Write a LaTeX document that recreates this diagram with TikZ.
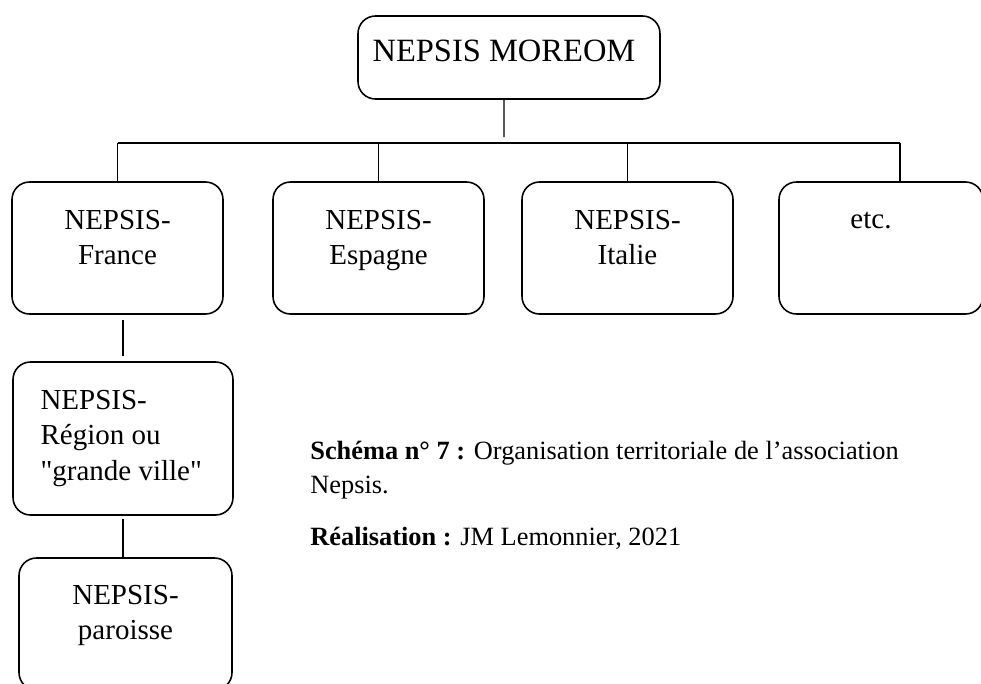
\documentclass[tikz,border=0pt]{standalone}
\usepackage{fontspec}
\setmainfont{Liberation Serif}[Ligatures=TeXOff]
\usepackage{tikz}
\usetikzlibrary{calc}

\begin{document}
\begin{tikzpicture}[
  orgbox/.style={draw, rounded corners=0.35cm, line width=0.9pt, minimum width=4.22cm, minimum height=2.64cm, inner sep=0pt},
  boxtext/.style={inner sep=0pt, align=center, font=\fontsize{16.5}{20}\selectfont},
  link/.style={line width=0.8pt}
]
  \useasboundingbox (0,0) rectangle (19.62,-13.68);

  % head of the association
  \node[orgbox, minimum width=6.04cm, minimum height=1.66cm] (moreom) at (10.18,-1.15) {};
  \node[boxtext, anchor=north west, font=\fontsize{18.5}{22}\selectfont] (moreomtxt) at ($(moreom.north west)+(0.30,-0.48)$) {NEPSIS MOREOM};

  % national branches
  \node[orgbox] (france) at (2.35,-4.96) {};
  \node[orgbox] (espagne) at (7.57,-4.96) {};
  \node[orgbox] (italie) at (12.55,-4.96) {};
  \node[orgbox, minimum width=4.08cm] (etc) at (17.62,-4.96) {};

  \node[boxtext, anchor=north] (francetxt) at ($(france.north)+(0,-0.58)$) {NEPSIS-\\France};
  \node[boxtext, anchor=north] (espagnetxt) at ($(espagne.north)+(0,-0.58)$) {NEPSIS-\\Espagne};
  \node[boxtext, anchor=north] (italietxt) at ($(italie.north)+(0,-0.58)$) {NEPSIS-\\Italie};
  \node[boxtext, anchor=base] (etctxt) at ($(etc.north)+(-0.2,-0.94)$) {etc.};

  % local levels under France
  \node[orgbox, minimum width=4.4cm, minimum height=3.06cm] (region) at (2.46,-8.77) {};
  \node[boxtext, anchor=north west, align=left] (regiontxt) at ($(region.north west)+(0.56,-0.58)$) {NEPSIS-\\Région ou\\"grande ville"};
  \node[orgbox, minimum width=4.26cm] (paroisse) at (2.51,-12.48) {};
  \node[boxtext, anchor=north] (paroissetxt) at ($(paroisse.north)+(0,-0.56)$) {NEPSIS-\\paroisse};

  % tree lines
  \coordinate (bus) at (10.08,-2.86);
  \coordinate (etctop) at ($(etc.north)+(0.38,0)$);
  \draw[link, shorten >=0.12cm] ($(moreom.south)+(-0.1,0)$) -- (bus);
  \draw[link] (france.north |- bus) -- (etctop |- bus);
  \draw[link] (france.north) -- (france.north |- bus);
  \draw[link] (espagne.north) -- (espagne.north |- bus);
  \draw[link] (italie.north) -- (italie.north |- bus);
  \draw[link, shorten <=0.12cm] ($(etctop)+(0,0.88)$) -- (etctop);
  \draw[link, shorten <=0.1cm, shorten >=0.1cm] (region.north |- france.south) -- (region.north);
  \draw[link, shorten <=0.06cm] (region.south) -- (region.south |- paroisse.north);

  % caption
  \node[anchor=north west, inner sep=0pt, align=left, font=\fontsize{15}{19.3}\selectfont] (caption) at (6.2,-8.82) {\textbf{Schéma n° 7 :} Organisation territoriale de l’association\\Nepsis.};
  \node[anchor=north west, inner sep=0pt, font=\fontsize{15}{19.3}\selectfont] (credit) at (6.2,-10.54) {\textbf{Réalisation :} JM Lemonnier, 2021};

\end{tikzpicture}
\end{document}
